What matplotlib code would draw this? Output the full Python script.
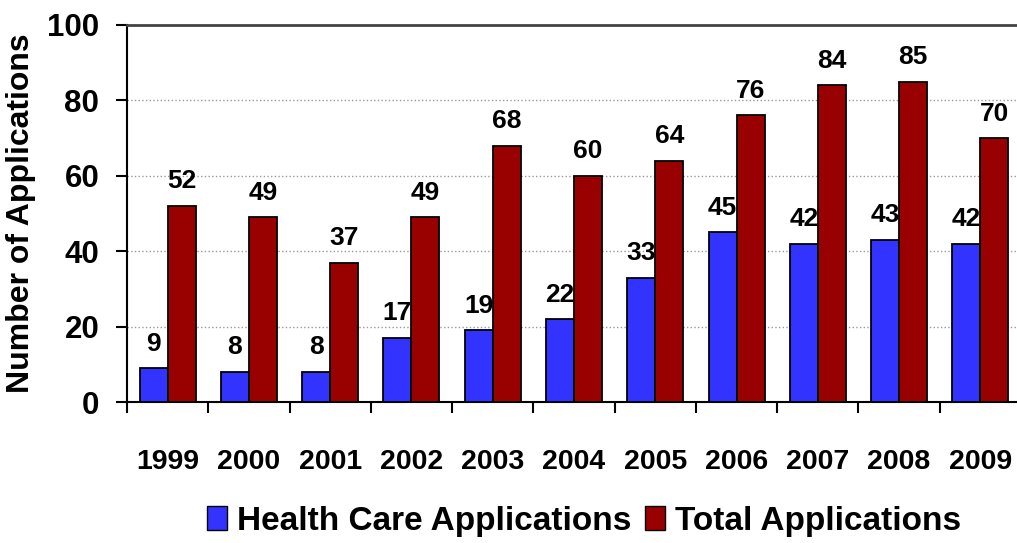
import numpy as np
import matplotlib.pyplot as plt
from matplotlib.patches import Patch

years = ['1999', '2000', '2001', '2002', '2003', '2004', '2005', '2006', '2007', '2008', '2009']
health_care = [9, 8, 8, 17, 19, 22, 33, 45, 42, 43, 42]
total = [52, 49, 37, 49, 68, 60, 64, 76, 84, 85, 70]

font = ['Liberation Sans', 'DejaVu Sans']
blue = '#3333FF'
red = '#990000'

fig = plt.figure(figsize=(10.17, 5.43), dpi=100)
ax = fig.add_axes([127 / 1017, 1 - 402 / 543, 894 / 1017, 377 / 543])

x = np.arange(len(years))
w = 0.345
b1 = ax.bar(x - w / 2, health_care, w, color=blue, edgecolor='black', linewidth=1.3, zorder=3)
b2 = ax.bar(x + w / 2, total, w, color=red, edgecolor='black', linewidth=1.3, zorder=3)

for bars, vals in ((b1, health_care), (b2, total)):
    for rect, v in zip(bars, vals):
        ax.annotate(str(v), (rect.get_x() + rect.get_width() / 2, v),
                    xytext=(0, 9), textcoords='offset points',
                    ha='center', va='bottom', fontsize=19, fontweight='bold',
                    family=font, zorder=4)

ax.set_xlim(-0.5, len(years) - 0.5)
ax.set_ylim(0, 100)
ax.set_yticks([0, 20, 40, 60, 80, 100])
ax.set_yticklabels(['0', '20', '40', '60', '80', '100'], fontsize=22.5,
                   fontweight='bold', family=font)

# ticks between categories, labels at centres
ax.set_xticks(np.arange(len(years) + 1) - 0.5)
ax.set_xticklabels([])
ax.set_xticks(x, minor=True)
ax.set_xticklabels(years, minor=True, fontsize=20.5, fontweight='bold', family=font)
ax.tick_params(axis='x', which='major', direction='out', length=8, width=1.5)
ax.tick_params(axis='x', which='minor', length=0, pad=34)
ax.tick_params(axis='y', direction='out', length=8, width=1.5, pad=12)

ax.yaxis.grid(True, linestyle=':', color='#999999', linewidth=1, zorder=0)
ax.spines['right'].set_visible(False)
ax.spines['top'].set_color('#444444')
ax.spines['top'].set_linewidth(2)
ax.spines['left'].set_linewidth(1.5)
ax.spines['bottom'].set_linewidth(1.5)

ax.set_ylabel('Number of Applications', fontsize=23, fontweight='bold', family=font)
ax.yaxis.set_label_coords(-0.102, 0.5)

handles = [Patch(facecolor=blue, edgecolor='black', label='Health Care Applications'),
           Patch(facecolor=red, edgecolor='black', label='Total Applications')]
fig.legend(handles=handles, loc='center', bbox_to_anchor=(0.574, 0.04), ncol=2,
           frameon=False, handlelength=0.6, handleheight=0.75, handletextpad=0.3,
           columnspacing=0.4, prop={'family': font, 'weight': 'bold', 'size': 24})

fig.savefig('out.png', dpi=100)
